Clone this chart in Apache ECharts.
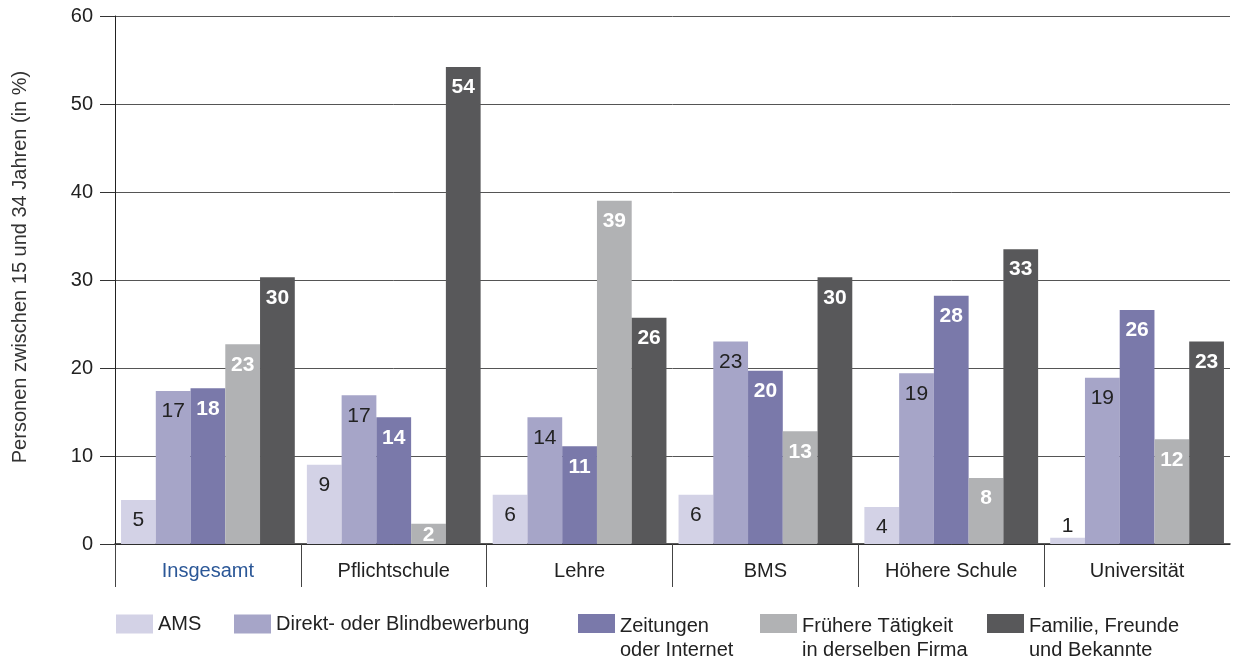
<!DOCTYPE html>
<html><head><meta charset="utf-8">
<script src="https://cdn.jsdelivr.net/npm/echarts@6/dist/echarts.min.js"></script>
<style>html,body{margin:0;padding:0;background:#fff}#c{width:1245px;height:660px}</style>
</head><body><div id="c"></div>
<script>
// ---- data ----
const categories = ['Insgesamt', 'Pflichtschule', 'Lehre', 'BMS', 'Höhere Schule', 'Universität'];
const seriesNames = ['AMS', 'Direkt- oder Blindbewerbung', 'Zeitungen\noder Internet', 'Frühere Tätigkeit\nin derselben Firma', 'Familie, Freunde\nund Bekannte'];
const amsValues       = [5.0, 9.0, 5.6, 5.6, 4.2, 0.7];
const direktValues    = [17.4, 16.9, 14.4, 23.0, 19.4, 18.9];
const zeitungenValues = [17.7, 14.4, 11.1, 19.7, 28.2, 26.6];
const fruehereValues  = [22.7, 2.3, 39.0, 12.8, 7.5, 11.9];
const familieValues   = [30.3, 54.2, 25.7, 30.3, 33.5, 23.0];
const amsLabels       = [5, 9, 6, 6, 4, 1];
const direktLabels    = [17, 17, 14, 23, 19, 19];
const zeitungenLabels = [18, 14, 11, 20, 28, 26];
const fruehereLabels  = [23, 2, 39, 13, 8, 12];
const familieLabels   = [30, 54, 26, 30, 33, 23];
const yAxisName = 'Personen zwischen 15 und 34 Jahren (in %)';

// ---- styles ----
const FONT = '"Liberation Sans", Arial, Helvetica, sans-serif';
const colors = ['#d3d2e6', '#a6a5c8', '#7a79aa', '#b1b2b4', '#58585a'];
const labelColors = ['#222', '#222', '#fff', '#fff', '#fff'];
const legendLefts = [116, 234, 578, 760, 987];

const allValues = [amsValues, direktValues, zeitungenValues, fruehereValues, familieValues];
const allLabels = [amsLabels, direktLabels, zeitungenLabels, fruehereLabels, familieLabels];

const series = seriesNames.map((name, s) => ({
  name: name,
  type: 'bar',
  barGap: '0%',
  barCategoryGap: '6.5%',
  itemStyle: { color: colors[s] },
  label: {
    show: true,
    position: 'insideTop',
    distance: 10,
    color: labelColors[s],
    fontSize: 21,
    fontFamily: FONT,
    fontWeight: s >= 2 ? 'bold' : 'normal',
    formatter: p => String(allLabels[s][p.dataIndex])
  },
  data: allValues[s].map(v => {
    if (v < 1.5) return { value: v, label: { position: 'top', distance: 1, color: '#222' } };
    if (v < 3) return { value: v, label: { distance: 1 } };
    return v;
  })
}));

// swatch on top part of a taller icon box so that the first text line aligns with it
const tallIcon = 'path://M0,0H37V19H0Z M0,48L0.001,48';

const legends = seriesNames.map((name, i) => {
  const multi = name.indexOf('\n') >= 0;
  return {
    data: [name],
    left: legendLefts[i],
    top: multi ? 614 : 612,
    padding: 0,
    icon: multi ? tallIcon : 'rect',
    itemWidth: 37,
    itemHeight: multi ? 48 : 19,
    selectedMode: false,
    textStyle: { fontSize: 20, color: '#222', fontFamily: FONT, lineHeight: 24 }
  };
});

// category divider ticks: fade out the last (right-end) boundary tick
const tickColor = new echarts.graphic.LinearGradient(0, 0, 1245, 0, [
  { offset: 0, color: '#444' },
  { offset: 0.975, color: '#444' },
  { offset: 0.976, color: 'rgba(68,68,68,0)' },
  { offset: 1, color: 'rgba(68,68,68,0)' }
], true);

const chart = echarts.init(document.getElementById('c'), null, { renderer: 'canvas' });
chart.setOption({
  animation: false,
  backgroundColor: '#fff',
  grid: { left: 115, right: 15, top: 16, bottom: 116, containLabel: false },
  legend: legends,
  xAxis: {
    type: 'category',
    data: categories,
    axisLine: { show: true, lineStyle: { color: '#222', width: 1.5 } },
    axisTick: { show: true, length: 43, lineStyle: { color: tickColor, width: 1 } },
    axisLabel: {
      margin: 17,
      fontSize: 20,
      fontFamily: FONT,
      color: '#222',
      interval: 0,
      formatter: (v, i) => i === 0 ? '{first|' + v + '}' : v,
      rich: { first: { color: '#2b5797', fontSize: 20, fontFamily: FONT } }
    }
  },
  yAxis: {
    type: 'value',
    min: 0, max: 60, interval: 10,
    name: yAxisName,
    nameLocation: 'middle',
    nameGap: 85,
    nameTextStyle: { fontSize: 20, color: '#333', fontFamily: FONT, padding: [0, 0, 0, 26] },
    axisLine: { show: true, lineStyle: { color: '#222', width: 1 } },
    axisTick: { show: true, inside: false, length: 15, lineStyle: { color: '#333' } },
    axisLabel: { margin: 22, fontSize: 20, color: '#222', fontFamily: FONT },
    splitLine: { show: true, lineStyle: { color: '#555', width: 1 } }
  },
  series: series
});
</script>
</body></html>
